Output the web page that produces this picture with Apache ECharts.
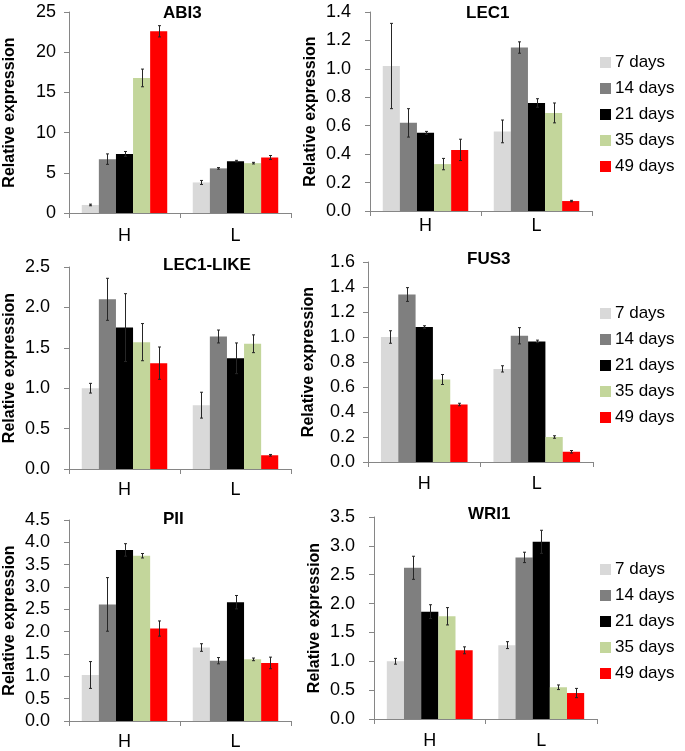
<!DOCTYPE html>
<html>
<head>
<meta charset="utf-8">
<script src="https://cdn.jsdelivr.net/npm/echarts/dist/echarts.min.js"></script>
<style>
html,body{margin:0;padding:0;background:#fff;}
#chart{width:685px;height:751px;}
</style>
</head>
<body>
<div id="chart"></div>
<script>
// ---- data ----
const days = ['7 days', '14 days', '21 days', '35 days', '49 days'];
const categories = ['H', 'L'];
const yLabel = 'Relative expression';

const abi3_H = [1.0, 6.7, 7.35, 16.8, 22.6];
const abi3_L = [3.8, 5.55, 6.45, 6.2, 6.9];
const abi3_H_err = [0.1, 0.65, 0.3, 1.1, 0.7];
const abi3_L_err = [0.25, 0.1, 0.1, 0.1, 0.25];
const abi3_ticks = [0, 25, 5];

const lec1_H = [1.02, 0.62, 0.55, 0.33, 0.43];
const lec1_L = [0.56, 1.15, 0.76, 0.69, 0.07];
const lec1_H_err = [0.30, 0.10, 0.01, 0.04, 0.075];
const lec1_L_err = [0.08, 0.04, 0.03, 0.07, 0.005];
const lec1_ticks = [0, 1.4, 0.2];

const lec1like_H = [1.0, 2.1, 1.75, 1.57, 1.31];
const lec1like_L = [0.79, 1.64, 1.37, 1.55, 0.17];
const lec1like_H_err = [0.06, 0.26, 0.42, 0.23, 0.2];
const lec1like_L_err = [0.16, 0.08, 0.19, 0.11, 0.01];
const lec1like_ticks = [0, 2.5, 0.5];

const fus3_H = [1.0, 1.34, 1.08, 0.66, 0.46];
const fus3_L = [0.745, 1.01, 0.965, 0.2, 0.082];
const fus3_H_err = [0.05, 0.055, 0.01, 0.04, 0.01];
const fus3_L_err = [0.025, 0.065, 0.01, 0.01, 0.01];
const fus3_ticks = [0, 1.6, 0.2];

const pii_H = [1.03, 2.61, 3.83, 3.7, 2.07];
const pii_L = [1.645, 1.35, 2.66, 1.38, 1.3];
const pii_H_err = [0.3, 0.6, 0.14, 0.05, 0.17];
const pii_L_err = [0.085, 0.07, 0.15, 0.03, 0.13];
const pii_ticks = [0, 4.5, 0.5];

const wri1_H = [1.0, 2.62, 1.86, 1.78, 1.19];
const wri1_L = [1.28, 2.8, 3.07, 0.55, 0.45];
const wri1_H_err = [0.05, 0.2, 0.12, 0.15, 0.06];
const wri1_L_err = [0.06, 0.09, 0.2, 0.04, 0.08];
const wri1_ticks = [0, 3.5, 0.5];

// ---- styles / layout ----
const colors = ['#d9d9d9', '#7f7f7f', '#000000', '#c3d69b', '#ff0000'];
const FONT = '"Liberation Sans", Arial, sans-serif';
const AXIS_COLOR = '#868686';
const CAT_GAP = 0.23;

const panels = [
  {name: 'ABI3', H: abi3_H, L: abi3_L, He: abi3_H_err, Le: abi3_L_err, t: abi3_ticks, dec: 0,
   grid: {left: 69, top: 12, width: 222, height: 201}, title: [163, 5], catMargin: 14, yMargin: 13},
  {name: 'LEC1', H: lec1_H, L: lec1_L, He: lec1_H_err, Le: lec1_L_err, t: lec1_ticks, dec: 1,
   grid: {left: 370, top: 12, width: 222, height: 199}, title: [466, 5], catMargin: 6, yMargin: 19},
  {name: 'LEC1-LIKE', H: lec1like_H, L: lec1like_L, He: lec1like_H_err, Le: lec1like_L_err, t: lec1like_ticks, dec: 1,
   grid: {left: 69, top: 267, width: 222, height: 202}, title: [163, 257], catMargin: 12, yMargin: 19},
  {name: 'FUS3', H: fus3_H, L: fus3_L, He: fus3_H_err, Le: fus3_L_err, t: fus3_ticks, dec: 1,
   grid: {left: 368, top: 262, width: 225, height: 200}, title: [467, 251], catMargin: 13, yMargin: 13},
  {name: 'PII', H: pii_H, L: pii_L, He: pii_H_err, Le: pii_L_err, t: pii_ticks, dec: 1,
   grid: {left: 69, top: 520, width: 222, height: 202}, title: [163, 511], catMargin: 12, yMargin: 19},
  {name: 'WRI1', H: wri1_H, L: wri1_L, He: wri1_H_err, Le: wri1_L_err, t: wri1_ticks, dec: 1,
   grid: {left: 374, top: 517, width: 223, height: 202}, title: [468, 506], catMargin: 13, yMargin: 19}
];

const legendTops = [54, 305, 561];

const option = {
  animation: false,
  backgroundColor: '#ffffff',
  textStyle: {fontFamily: FONT},
  title: [],
  legend: [],
  grid: [],
  xAxis: [],
  yAxis: [],
  series: []
};

legendTops.forEach(function (top) {
  option.legend.push({
    data: days,
    orient: 'vertical',
    left: 600,
    top: top,
    padding: 0,
    icon: 'rect',
    itemWidth: 11,
    itemHeight: 11,
    itemGap: 9,
    textStyle: {fontSize: 17, color: '#000', fontFamily: FONT, padding: [0, 0, 0, -1], lineHeight: 17}
  });
});

panels.forEach(function (p, gi) {
  option.title.push({
    text: p.name, left: p.title[0], top: p.title[1], padding: 0,
    textStyle: {fontSize: 17, fontWeight: 'bold', color: '#000', fontFamily: FONT}
  });
  option.grid.push(p.grid);
  option.xAxis.push({
    type: 'category', gridIndex: gi, data: categories,
    axisLine: {show: true, lineStyle: {color: AXIS_COLOR, width: 1}},
    axisTick: {show: true, length: 5, interval: 0, lineStyle: {color: AXIS_COLOR}},
    axisLabel: {fontSize: 18, color: '#000', margin: p.catMargin, fontFamily: FONT},
    splitLine: {show: false}
  });
  option.yAxis.push({
    type: 'value', gridIndex: gi, min: p.t[0], max: p.t[1], interval: p.t[2],
    name: yLabel, nameLocation: 'middle', nameGap: 51,
    nameTextStyle: {fontSize: 16, fontWeight: 'bold', color: '#000', fontFamily: FONT},
    axisLine: {show: true, lineStyle: {color: AXIS_COLOR, width: 1}},
    axisTick: {show: true, length: 5, lineStyle: {color: AXIS_COLOR}},
    axisLabel: {fontSize: 18, color: '#000', margin: p.yMargin, fontFamily: FONT,
      formatter: (function (dec) { return function (v) { return v.toFixed(dec); }; })(p.dec)},
    splitLine: {show: false}
  });
  days.forEach(function (d, si) {
    option.series.push({
      type: 'bar', name: d, xAxisIndex: gi, yAxisIndex: gi,
      data: [p.H[si], p.L[si]],
      barGap: '0%', barCategoryGap: (CAT_GAP * 100) + '%',
      itemStyle: {color: colors[si]},
      emphasis: {disabled: true}
    });
  });
  const errData = [];
  days.forEach(function (d, si) {
    errData.push([0, si, p.H[si], p.He[si]]);
    errData.push([1, si, p.L[si], p.Le[si]]);
  });
  option.series.push({
    type: 'custom', name: 'err' + gi, xAxisIndex: gi, yAxisIndex: gi,
    data: errData, z: 10, silent: true,
    encode: {x: 0, y: 2},
    renderItem: function (params, api) {
      const cat = api.value(0), s = api.value(1), v = api.value(2), e = api.value(3);
      const band = api.size([1, 0])[0];
      const bw = band * (1 - CAT_GAP) / days.length;
      const base = api.coord([cat, v]);
      const x = Math.round(base[0] + (s - (days.length - 1) / 2) * bw) + 0.5;
      const yt = api.coord([cat, v + e])[1];
      const yb = api.coord([cat, v - e])[1];
      const st = {stroke: '#262626', lineWidth: 1};
      return {type: 'group', children: [
        {type: 'line', shape: {x1: x, y1: yt, x2: x, y2: yb}, style: st},
        {type: 'line', shape: {x1: x - 1.5, y1: yt, x2: x + 1.5, y2: yt}, style: st},
        {type: 'line', shape: {x1: x - 1.5, y1: yb, x2: x + 1.5, y2: yb}, style: st}
      ]};
    }
  });
});

const chart = echarts.init(document.getElementById('chart'), null, {renderer: 'canvas'});
chart.setOption(option);
</script>
</body>
</html>
